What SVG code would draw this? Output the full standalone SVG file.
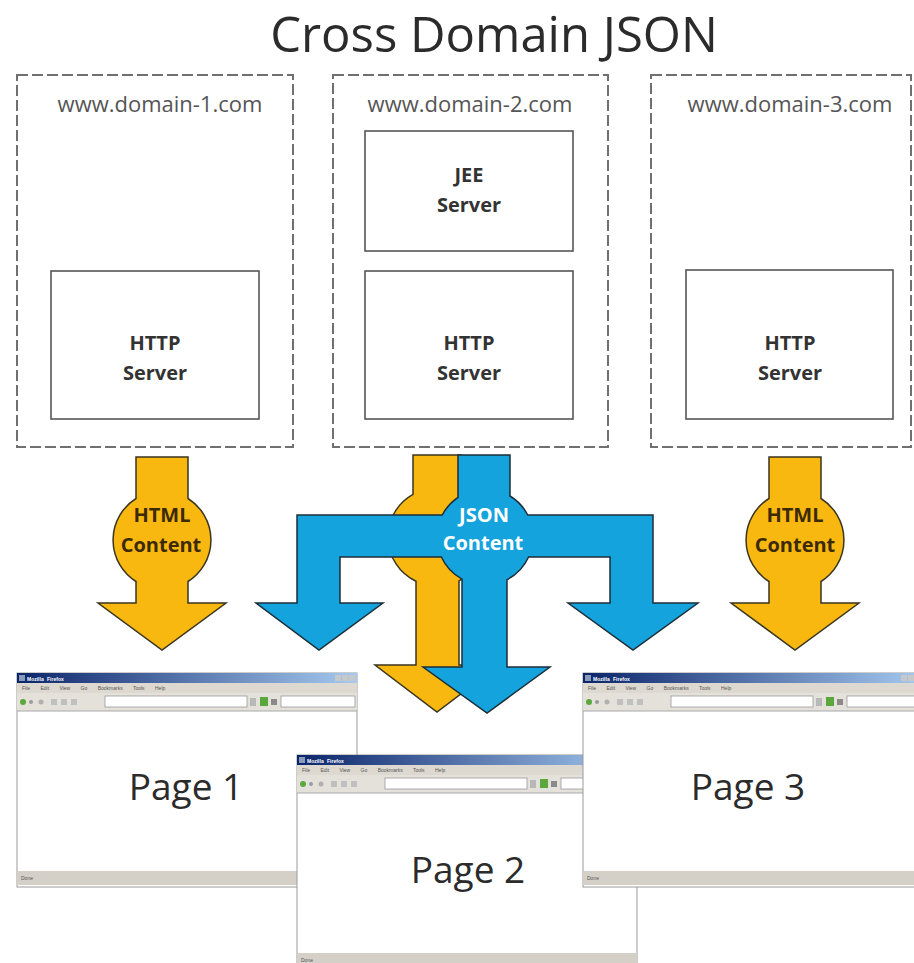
<svg xmlns="http://www.w3.org/2000/svg" xmlns:xlink="http://www.w3.org/1999/xlink" width="914" height="963" viewBox="0 0 914 963">
<style>
.title{font-family:"Open Sans","Liberation Sans",sans-serif;font-size:49px;fill:#2b2b2b;text-anchor:middle}
.dom{fill:none;stroke:#707070;stroke-width:2;stroke-dasharray:11 4}
.domlbl{font-family:"Open Sans","Liberation Sans",sans-serif;font-size:22px;fill:#555;text-anchor:middle}
.srv{fill:#fff;stroke:#555;stroke-width:1.6}
.srvlbl{font-family:"Open Sans","Liberation Sans",sans-serif;font-size:20px;font-weight:bold;fill:#333;text-anchor:middle}
.orange{fill:#F8B80F;stroke:#3a3520;stroke-width:1.5;stroke-linejoin:miter}
.blue{fill:#14A3DC;stroke:#1c2e38;stroke-width:1.5;stroke-linejoin:miter}
.htmllbl{font-family:"Open Sans","Liberation Sans",sans-serif;font-size:20px;font-weight:bold;fill:#3b2a05;text-anchor:middle}
.jsonlbl{font-family:"Open Sans","Liberation Sans",sans-serif;font-size:20px;font-weight:bold;fill:#fff;text-anchor:middle}
.page{font-family:"Open Sans","Liberation Sans",sans-serif;font-size:37px;fill:#2b2b2b;text-anchor:middle}
.tiny{font-family:"Liberation Sans",sans-serif;font-size:5px;fill:#555}
</style>
<defs>
<linearGradient id="tb" x1="0" y1="0" x2="1" y2="0">
<stop offset="0" stop-color="#0a246a"/>
<stop offset="1" stop-color="#a6caf0"/>
</linearGradient>
<path id="htmlArrow" class="orange" d="M-26,457 H26 V498.5 A49,49 0 0 1 26,581.5 V603 H64 L0,650 L-64,603 H-26 V581.5 A49,49 0 0 1 -26,498.5 Z"/>
<g id="browser">
<rect x="0" y="0" width="340" height="214" fill="#fff" stroke="#9a9a9a" stroke-width="1"/>
<rect x="0" y="0" width="340" height="10" fill="url(#tb)"/>
<rect x="2" y="2" width="6" height="6" fill="#8a9ab8"/>
<text x="10" y="7.5" class="tiny" style="fill:#fff;font-weight:bold;word-spacing:2px">Mozilla Firefox</text>
<rect x="318" y="2" width="6" height="6" fill="#c8c8c8"/>
<rect x="325" y="2" width="6" height="6" fill="#c8c8c8"/>
<rect x="332" y="2" width="6" height="6" fill="#c8c8c8"/>
<rect x="0" y="10" width="340" height="10" fill="#ddd9d0"/>
<text x="5" y="17" class="tiny" style="word-spacing:9px">File Edit View Go Bookmarks Tools Help</text>
<rect x="0" y="20" width="340" height="18" fill="#e4e1da"/>
<circle cx="6" cy="29" r="3" fill="#5aa83c"/>
<circle cx="14" cy="29" r="2" fill="#9a9a9a"/>
<circle cx="24" cy="29" r="2.5" fill="#b0b0b0"/>
<rect x="34" y="26" width="6" height="6" fill="#c0c0c0"/>
<rect x="44" y="26" width="6" height="6" fill="#c0c0c0"/>
<rect x="54" y="26" width="6" height="6" fill="#c0c0c0"/>
<rect x="88" y="23" width="142" height="11" fill="#fff" stroke="#9a9a9a" stroke-width="0.8"/>
<rect x="233" y="25" width="6" height="8" fill="#b8b8b8"/>
<rect x="243" y="24" width="8" height="9" fill="#5aa83c"/>
<rect x="254" y="26" width="6" height="6" fill="#8a8a8a"/>
<rect x="264" y="23" width="74" height="11" fill="#fff" stroke="#9a9a9a" stroke-width="0.8"/>
<line x1="0" y1="38" x2="340" y2="38" stroke="#a8a8a8" stroke-width="1"/>
<rect x="0" y="198" width="340" height="14" fill="#d4d0c8"/>
<text x="4" y="207" class="tiny">Done</text>
</g>
</defs>
<rect width="914" height="963" fill="#fff"/>
<g id="title"><text x="494" y="52" class="title">Cross Domain JSON</text></g>

<g id="domain1">
<rect x="17" y="75" width="276" height="372" class="dom"/>
<text x="160" y="112" class="domlbl">www.domain-1.com</text>
</g>
<g id="domain2">
<rect x="333" y="75" width="275" height="372" class="dom"/>
<text x="470" y="112" class="domlbl">www.domain-2.com</text>
</g>
<g id="domain3">
<rect x="651" y="75" width="260" height="372" class="dom"/>
<text x="790" y="112" class="domlbl">www.domain-3.com</text>
</g>

<g id="http1">
<rect x="51" y="271" width="208" height="148" class="srv"/>
<text x="155" y="350" class="srvlbl">HTTP</text>
<text x="155" y="380" class="srvlbl">Server</text>
</g>
<g id="jee2">
<rect x="365" y="131" width="208" height="120" class="srv"/>
<text x="469" y="182" class="srvlbl">JEE</text>
<text x="469" y="212" class="srvlbl">Server</text>
</g>
<g id="http2">
<rect x="365" y="271" width="208" height="148" class="srv"/>
<text x="469" y="350" class="srvlbl">HTTP</text>
<text x="469" y="380" class="srvlbl">Server</text>
</g>
<g id="http3">
<rect x="686" y="270" width="207" height="149" class="srv"/>
<text x="790" y="350" class="srvlbl">HTTP</text>
<text x="790" y="380" class="srvlbl">Server</text>
</g>

<g id="connectors">
<g id="html1-arrow">
<use xlink:href="#htmlArrow" href="#htmlArrow" transform="translate(162,0)"/>
<text x="162" y="522" class="htmllbl">HTML</text>
<text x="161" y="552" class="htmllbl">Content</text>
</g>
<g id="html3-arrow">
<use xlink:href="#htmlArrow" href="#htmlArrow" transform="translate(795,0)"/>
<text x="795" y="522" class="htmllbl">HTML</text>
<text x="795" y="552" class="htmllbl">Content</text>
</g>
<g id="html2-arrow">
<path class="orange" d="M413,455 H461 V494.3 A49,49 0 0 1 459,580.8 V665 H499 L437,712 L375,665 H416 V581.3 A49,49 0 0 1 413,494.3 Z"/>
</g>
<g id="json-arrow">
<path class="blue" d="M458,455 H510 V496 A48,48 0 0 1 527.7,515 H653 V603 H698 L633,650 L568,603 H610 V557 H528.6 A48,48 0 0 1 507,579.7 V667 H550 L487,713 L423,667 H462 V579.1 A48,48 0 0 1 441.4,557 H340 V603 H383 L319,650 L256,603 H297 V515 H442.3 A48,48 0 0 1 458,497.3 Z"/>
<text x="484" y="522" class="jsonlbl">JSON</text>
<text x="483" y="550" class="jsonlbl">Content</text>
</g>
</g>

<g id="page1">
<use xlink:href="#browser" href="#browser" transform="translate(17,673)"/>
<text x="186" y="800" class="page">Page 1</text>
</g>
<g id="page2">
<use xlink:href="#browser" href="#browser" transform="translate(297,755)"/>
<text x="468" y="883" class="page">Page 2</text>
</g>
<g id="page3">
<use xlink:href="#browser" href="#browser" transform="translate(583,673)"/>
<text x="748" y="800" class="page">Page 3</text>
</g>
</svg>
